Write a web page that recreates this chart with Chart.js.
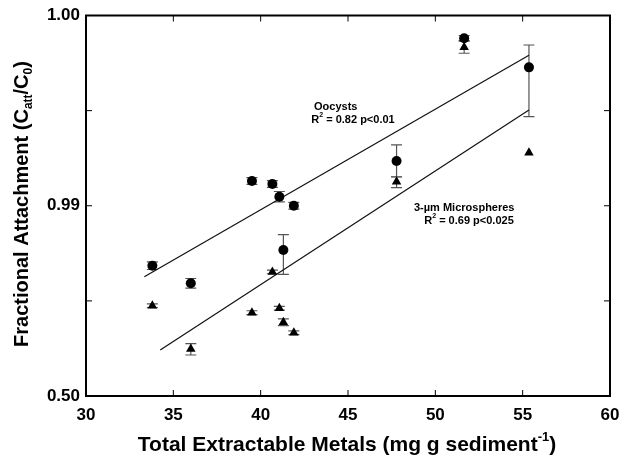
<!DOCTYPE html>
<html>
<head>
<meta charset="utf-8">
<script src="https://cdn.jsdelivr.net/npm/chart.js@4.4.0/dist/chart.umd.min.js"></script>
<style>
  html, body { margin: 0; padding: 0; background: #fff; }
  #wrap { width: 619px; height: 455px; }
</style>
</head>
<body>
<div id="wrap"><canvas id="grafico" width="619" height="455"></canvas></div>
<script>
// Eixo x: metais extraíveis (mg/g); eixo y em unidades logit: log10(f/(1-f))
const metais = [33.8, 36.0, 39.5, 40.67, 41.07, 41.3, 41.9, 47.78, 51.65, 55.36];

const oocistos = [1.370, 1.185, 2.260, 2.229, 2.095, 1.535, 2.000, 2.470, 3.760, 3.455];
const oocistosMin = [1.330, 1.135, 2.225, 2.194, 2.040, 1.279, 1.965, 2.302, 3.730, 2.936];
const oocistosMax = [1.410, 1.235, 2.295, 2.264, 2.150, 1.696, 2.035, 2.640, 3.790, 3.690];

const microesferas = [0.949, 0.494, 0.876, 1.304, 0.922, 0.775, 0.665, 2.253, 3.666, 2.558];
const microMin = [0.930, 0.431, 0.856, 1.285, 0.902, 0.740, 0.645, 2.190, 3.603, null];
const microMax = [0.968, 0.550, 0.896, 1.323, 0.942, 0.810, 0.685, 2.305, 3.735, null];

// Retas de regressão (extremos)
const ajusteOocistosX = [33.34, 55.36];
const ajusteOocistosY = [1.254, 3.582];
const ajusteMicroX = [34.25, 55.36];
const ajusteMicroY = [0.484, 3.007];

const ticksX = [30, 35, 40, 45, 50, 55, 60];
const ticksY = [0, 1, 2, 3, 4];

const FONTE = '"Liberation Sans", Arial, sans-serif';

function pontos(xs, ys) {
  return xs.map((x, i) => ({ x: x, y: ys[i] }));
}

// Desenha texto em partes, com sub/sobrescritos
function textoComposto(ctx, partes, tamanho, cx, cy) {
  let total = 0;
  partes.forEach(p => {
    const t = p.tipo === 'normal' ? tamanho : Math.round(tamanho * 0.62);
    ctx.font = 'bold ' + t + 'px ' + FONTE;
    p.w = ctx.measureText(p.txt).width;
    p.t = t;
    total += p.w;
  });
  let x = cx - total / 2;
  ctx.textAlign = 'left';
  ctx.textBaseline = 'middle';
  partes.forEach(p => {
    ctx.font = 'bold ' + p.t + 'px ' + FONTE;
    let dy = 0;
    if (p.tipo === 'sub') dy = tamanho * 0.32;
    if (p.tipo === 'sup') dy = -tamanho * 0.38;
    ctx.fillText(p.txt, x, cy + dy);
    x += p.w;
  });
}

const pluginExtras = {
  id: 'extras',
  beforeDatasetsDraw(chart) {
    const ctx = chart.ctx;
    const sx = chart.scales.x, sy = chart.scales.y;
    ctx.save();
    ctx.strokeStyle = '#555';
    ctx.lineWidth = 1.2;
    function barra(x, lo, hi) {
      if (lo === null || hi === null) return;
      const px = sx.getPixelForValue(x);
      const p1 = sy.getPixelForValue(lo), p2 = sy.getPixelForValue(hi);
      ctx.beginPath();
      ctx.moveTo(px, p1); ctx.lineTo(px, p2);
      ctx.moveTo(px - 5.5, p1); ctx.lineTo(px + 5.5, p1);
      ctx.moveTo(px - 5.5, p2); ctx.lineTo(px + 5.5, p2);
      ctx.stroke();
    }
    metais.forEach((x, i) => {
      barra(x, oocistosMin[i], oocistosMax[i]);
      barra(x, microMin[i], microMax[i]);
    });
    ctx.restore();
  },
  afterDraw(chart) {
    const ctx = chart.ctx;
    const a = chart.chartArea;
    const sx = chart.scales.x, sy = chart.scales.y;
    ctx.save();
    // moldura
    ctx.strokeStyle = '#000';
    ctx.lineWidth = 2;
    ctx.strokeRect(a.left, a.top, a.right - a.left, a.bottom - a.top);
    // marcas para dentro nos quatro lados
    ctx.lineWidth = 1;
    ctx.beginPath();
    ticksX.slice(1, -1).forEach(v => {
      const px = sx.getPixelForValue(v);
      ctx.moveTo(px, a.bottom); ctx.lineTo(px, a.bottom - 6);
      ctx.moveTo(px, a.top); ctx.lineTo(px, a.top + 6);
    });
    ticksY.slice(1, -1).forEach(v => {
      const py = sy.getPixelForValue(v);
      ctx.moveTo(a.left, py); ctx.lineTo(a.left + 6, py);
      ctx.moveTo(a.right, py); ctx.lineTo(a.right - 6, py);
    });
    ctx.stroke();

    ctx.fillStyle = '#000';
    // anotações das retas
    ctx.font = 'bold 11px ' + FONTE;
    ctx.textAlign = 'left';
    ctx.textBaseline = 'middle';
    ctx.fillText('Oocysts', 314, 107);
    ctx.fillText('3-µm Microspheres', 414, 208);
    textoComposto(ctx, [
      { txt: 'R', tipo: 'normal' }, { txt: '2', tipo: 'sup' }, { txt: ' = 0.82 p<0.01', tipo: 'normal' }
    ], 11, 353, 119.5);
    textoComposto(ctx, [
      { txt: 'R', tipo: 'normal' }, { txt: '2', tipo: 'sup' }, { txt: ' = 0.69 p<0.025', tipo: 'normal' }
    ], 11, 469, 220.5);

    // títulos dos eixos
    textoComposto(ctx, [
      { txt: 'Total Extractable Metals (mg g sediment', tipo: 'normal' },
      { txt: '-1', tipo: 'sup' },
      { txt: ')', tipo: 'normal' }
    ], 21, 347, 445);

    ctx.translate(22, 204);
    ctx.rotate(-Math.PI / 2);
    textoComposto(ctx, [
      { txt: 'Fractional Attachment (C', tipo: 'normal' },
      { txt: 'att', tipo: 'sub' },
      { txt: '/C', tipo: 'normal' },
      { txt: '0', tipo: 'sub' },
      { txt: ')', tipo: 'normal' }
    ], 20, 0, 0);
    ctx.restore();
  }
};

const ctx = document.getElementById('grafico').getContext('2d');
const chart = new Chart(ctx, {
  type: 'scatter',
  data: {
    datasets: [
      {
        label: 'Oocysts',
        data: pontos(metais, oocistos),
        pointStyle: 'circle',
        pointRadius: 5,
        backgroundColor: '#000',
        borderColor: '#000',
        borderWidth: 0
      },
      {
        label: '3-µm Microspheres',
        data: pontos(metais, microesferas),
        pointStyle: 'triangle',
        pointRadius: 5.5,
        backgroundColor: '#000',
        borderColor: '#000',
        borderWidth: 0
      },
      {
        type: 'line',
        label: 'Ajuste oocistos',
        data: pontos(ajusteOocistosX, ajusteOocistosY),
        borderColor: '#111',
        borderWidth: 1.2,
        pointRadius: 0,
        fill: false
      },
      {
        type: 'line',
        label: 'Ajuste microesferas',
        data: pontos(ajusteMicroX, ajusteMicroY),
        borderColor: '#111',
        borderWidth: 1.2,
        pointRadius: 0,
        fill: false
      }
    ]
  },
  options: {
    responsive: false,
    animation: false,
    devicePixelRatio: 1,
    layout: { padding: { left: 0, right: 9, top: 15.5, bottom: 0 } },
    plugins: {
      legend: { display: false },
      tooltip: { enabled: false }
    },
    scales: {
      x: {
        type: 'linear',
        min: 30,
        max: 60,
        afterBuildTicks: s => { s.ticks = ticksX.map(v => ({ value: v })); },
        afterFit: s => { s.height = 59; s.paddingLeft = 0; s.paddingRight = 0; },
        grid: { display: false, drawTicks: false },
        border: { display: false },
        ticks: {
          padding: 9,
          color: '#000',
          font: { family: FONTE, size: 17, weight: 'bold' }
        }
      },
      y: {
        type: 'linear',
        min: 0,
        max: 4,
        afterBuildTicks: s => { s.ticks = ticksY.map(v => ({ value: v })); },
        afterFit: s => { s.width = 86; s.paddingTop = 0; s.paddingBottom = 0; },
        grid: { display: false, drawTicks: false },
        border: { display: false },
        ticks: {
          padding: 6,
          autoSkip: false,
          color: '#000',
          font: { family: FONTE, size: 17, weight: 'bold' },
          callback: v => v % 2 === 0 ? (1 / (1 + Math.pow(10, -v))).toFixed(2) : ''
        }
      }
    }
  },
  plugins: [pluginExtras]
});
</script>
</body>
</html>
